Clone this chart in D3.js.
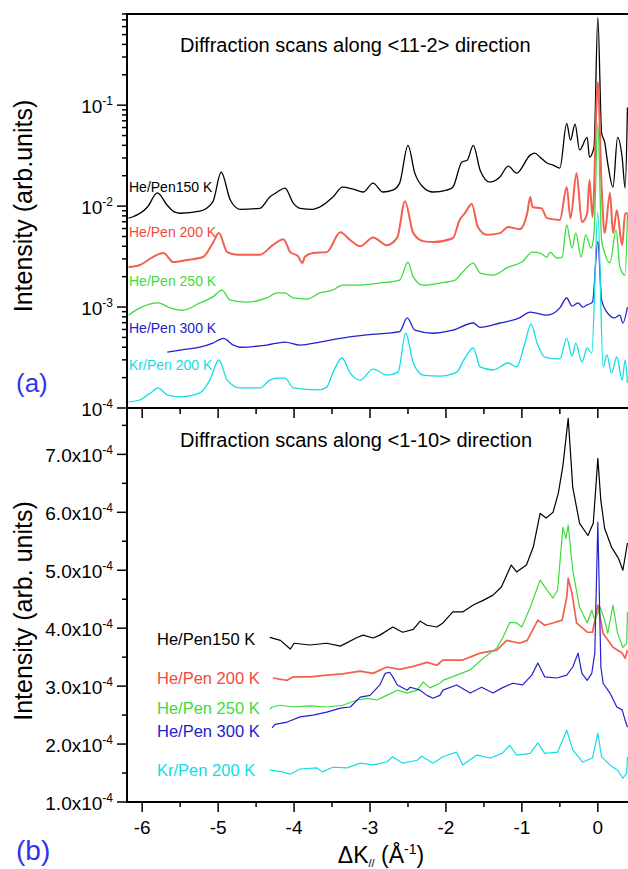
<!DOCTYPE html>
<html>
<head>
<meta charset="utf-8">
<script src="https://cdn.jsdelivr.net/npm/d3@7"></script>
<style>
body { margin: 0; background: #fff; }
svg { display: block; font-family: "Liberation Sans", Arial, sans-serif; }
</style>
</head>
<body>
<div id="chart-area"></div>
<script>
// series names and colours (same order in both panels)
const names = ["He/Pen150 K", "He/Pen 200 K", "He/Pen 250 K", "He/Pen 300 K", "Kr/Pen 200 K"];
const colors = ["#000000", "#ef4a3a", "#3cdc3c", "#2222cc", "#11dde6"];
const lineColors = ["#000000", "#f2604f", "#3cdc3c", "#2222cc", "#11dde6"];

const xTicks = [-6, -5, -4, -3, -2, -1, 0];
const topTicks = [1e-4, 1e-3, 1e-2, 1e-1];
const topTickExp = ["-4", "-3", "-2", "-1"];
const botTicks = [1e-4, 2e-4, 3e-4, 4e-4, 5e-4, 6e-4, 7e-4];
const botTickMant = ["1.0", "2.0", "3.0", "4.0", "5.0", "6.0", "7.0"];

// (a) along <11-2>, log intensity
const top150 = [[-6.18, 7.6e-3], [-6.13, 7.8e-3], [-5.93, 9.8e-3], [-5.80, 1.35e-2], [-5.67, 1.02e-2], [-5.57, 8.7e-3], [-5.50, 8.5e-3], [-5.24, 8.9e-3], [-5.07, 1.10e-2], [-4.96, 2.17e-2], [-4.84, 1.15e-2], [-4.71, 9.3e-3], [-4.45, 9.5e-3], [-4.32, 1.23e-2], [-4.22, 1.38e-2], [-4.12, 1.51e-2], [-4.01, 1.07e-2], [-3.92, 9.5e-3], [-3.75, 9.3e-3], [-3.66, 9.8e-3], [-3.49, 1.23e-2], [-3.36, 1.54e-2], [-3.22, 1.47e-2], [-3.09, 1.38e-2], [-2.96, 1.69e-2], [-2.83, 1.38e-2], [-2.70, 1.44e-2], [-2.61, 1.69e-2], [-2.50, 4.0e-2], [-2.41, 2.12e-2], [-2.30, 1.54e-2], [-2.17, 1.38e-2], [-1.99, 1.44e-2], [-1.91, 1.54e-2], [-1.79, 2.73e-2], [-1.72, 2.85e-2], [-1.64, 4.0e-2], [-1.55, 2.27e-2], [-1.42, 1.73e-2], [-1.29, 1.94e-2], [-1.18, 2.49e-2], [-1.07, 2.12e-2], [-0.89, 3.2e-2], [-0.83, 3.35e-2], [-0.76, 3.05e-2], [-0.67, 2.67e-2], [-0.59, 2.55e-2], [-0.50, 2.38e-2], [-0.41, 6.6e-2], [-0.36, 4.5e-2], [-0.30, 6.5e-2], [-0.24, 3.6e-2], [-0.14, 4.8e-2], [-0.11, 3.05e-2], [-0.05, 3.84e-2], [0, 0.74], [0.05, 5.3e-2], [0.09, 4.3e-2], [0.13, 2.67e-2], [0.20, 1.54e-2], [0.26, 4.8e-2], [0.32, 3.05e-2], [0.36, 1.51e-2], [0.39, 9.5e-2]];
const top200 = [[-6.18, 2.49e-3], [-6.03, 2.61e-3], [-5.86, 3.13e-3], [-5.72, 3.43e-3], [-5.59, 2.79e-3], [-5.41, 2.92e-3], [-5.20, 3.13e-3], [-5.07, 4.3e-3], [-4.99, 5.4e-3], [-4.88, 3.5e-3], [-4.75, 3.3e-3], [-4.45, 3.3e-3], [-4.28, 4.1e-3], [-4.14, 4.7e-3], [-4.05, 3.5e-3], [-3.95, 3.2e-3], [-3.89, 2.73e-3], [-3.86, 3.13e-3], [-3.75, 3.43e-3], [-3.57, 3.5e-3], [-3.39, 5.5e-3], [-3.26, 4.6e-3], [-3.13, 4.0e-3], [-2.96, 4.9e-3], [-2.78, 4.1e-3], [-2.64, 4.9e-3], [-2.54, 1.12e-2], [-2.43, 5.4e-3], [-2.30, 4.5e-3], [-2.17, 4.4e-3], [-1.91, 4.8e-3], [-1.82, 7.3e-3], [-1.75, 8.5e-3], [-1.66, 1.05e-2], [-1.58, 6.2e-3], [-1.46, 5.2e-3], [-1.29, 5.4e-3], [-1.18, 6.2e-3], [-1.03, 5.9e-3], [-0.93, 8.5e-3], [-0.89, 1.23e-2], [-0.86, 9.8e-3], [-0.74, 9.5e-3], [-0.67, 7.6e-3], [-0.50, 7.3e-3], [-0.41, 1.54e-2], [-0.36, 7.6e-3], [-0.28, 2.12e-2], [-0.21, 6.95e-3], [-0.14, 8.5e-3], [-0.11, 1.81e-2], [-0.07, 7.8e-3], [0, 0.169], [0.05, 1.54e-2], [0.09, 5.4e-3], [0.16, 1.35e-2], [0.20, 5.4e-3], [0.25, 9.1e-3], [0.32, 4.1e-3], [0.36, 8.5e-3], [0.39, 8.5e-3]];
const top250 = [[-6.18, 8.3e-4], [-6.03, 9.8e-4], [-5.79, 1.10e-3], [-5.63, 9.8e-4], [-5.47, 9.3e-4], [-5.24, 1.10e-3], [-5.07, 1.26e-3], [-4.95, 1.47e-3], [-4.84, 1.17e-3], [-4.62, 1.12e-3], [-4.36, 1.23e-3], [-4.22, 1.38e-3], [-4.12, 1.38e-3], [-4.01, 1.23e-3], [-3.83, 1.20e-3], [-3.66, 1.38e-3], [-3.49, 1.47e-3], [-3.36, 1.65e-3], [-3.13, 1.65e-3], [-2.87, 1.73e-3], [-2.61, 1.85e-3], [-2.50, 2.79e-3], [-2.43, 1.98e-3], [-2.30, 1.65e-3], [-2.08, 1.73e-3], [-1.88, 1.85e-3], [-1.78, 2.22e-3], [-1.64, 2.73e-3], [-1.55, 2.17e-3], [-1.38, 2.07e-3], [-1.18, 2.49e-3], [-1.00, 2.79e-3], [-0.86, 3.5e-3], [-0.76, 3.43e-3], [-0.67, 3.13e-3], [-0.63, 3.5e-3], [-0.54, 3.06e-3], [-0.47, 3.13e-3], [-0.41, 6.5e-3], [-0.34, 3.84e-3], [-0.29, 5.4e-3], [-0.22, 3.13e-3], [-0.16, 5.2e-3], [-0.09, 3.84e-3], [-0.05, 5.4e-3], [0, 6.6e-2], [0.05, 4.6e-3], [0.09, 3.43e-3], [0.16, 2.73e-3], [0.24, 5.8e-3], [0.29, 2.49e-3], [0.36, 2.07e-3], [0.39, 8.5e-3]];
const top300 = [[-5.67, 3.58e-4], [-5.50, 3.75e-4], [-5.24, 4.0e-4], [-5.07, 4.4e-4], [-4.93, 4.9e-4], [-4.80, 4.2e-4], [-4.71, 4.0e-4], [-4.36, 4.2e-4], [-4.12, 4.5e-4], [-3.92, 4.2e-4], [-3.66, 4.5e-4], [-3.39, 4.9e-4], [-3.04, 5.3e-4], [-2.61, 5.7e-4], [-2.51, 7.8e-4], [-2.41, 5.9e-4], [-2.17, 5.5e-4], [-1.91, 5.9e-4], [-1.64, 6.95e-4], [-1.55, 6.3e-4], [-1.29, 6.95e-4], [-1.03, 7.8e-4], [-0.89, 8.9e-4], [-0.67, 8.3e-4], [-0.50, 9.8e-4], [-0.41, 1.23e-3], [-0.34, 1.02e-3], [-0.26, 1.10e-3], [-0.20, 1.0e-3], [-0.14, 1.05e-3], [-0.07, 1.12e-3], [0, 4.5e-3], [0.05, 1.17e-3], [0.12, 8.9e-4], [0.22, 7.8e-4], [0.29, 8.3e-4], [0.33, 6.95e-4], [0.39, 1.0e-3]];
const topKr = [[-6.18, 1.15e-4], [-6.03, 1.2e-4], [-5.89, 1.41e-4], [-5.79, 1.58e-4], [-5.67, 1.35e-4], [-5.50, 1.29e-4], [-5.24, 1.41e-4], [-5.11, 1.89e-4], [-4.99, 2.99e-4], [-4.88, 1.89e-4], [-4.71, 1.58e-4], [-4.45, 1.58e-4], [-4.32, 1.89e-4], [-4.22, 1.98e-4], [-4.12, 1.98e-4], [-4.01, 1.58e-4], [-3.68, 1.51e-4], [-3.57, 1.61e-4], [-3.49, 2.22e-4], [-3.37, 3.13e-4], [-3.26, 2.22e-4], [-3.13, 1.89e-4], [-2.96, 2.43e-4], [-2.78, 2.12e-4], [-2.63, 2.27e-4], [-2.53, 5.5e-4], [-2.43, 2.79e-4], [-2.30, 2.12e-4], [-2.08, 2.07e-4], [-1.86, 2.27e-4], [-1.75, 3.13e-4], [-1.64, 3.93e-4], [-1.55, 2.55e-4], [-1.38, 2.38e-4], [-1.18, 2.79e-4], [-1.07, 2.55e-4], [-0.96, 4.4e-4], [-0.88, 6.8e-4], [-0.80, 4.4e-4], [-0.70, 3.2e-4], [-0.50, 3.06e-4], [-0.41, 4.9e-4], [-0.34, 3.27e-4], [-0.29, 4.4e-4], [-0.21, 2.85e-4], [-0.14, 3.93e-4], [-0.08, 3.5e-4], [0, 8.7e-3], [0.07, 2.55e-4], [0.12, 3.35e-4], [0.18, 2.22e-4], [0.25, 3.2e-4], [0.32, 1.89e-4], [0.36, 2.99e-4], [0.39, 1.77e-4]];

// (b) along <1-10>, linear intensity
const bot150 = [[-4.32, 3.84e-4], [-4.18, 3.79e-4], [-4.05, 3.64e-4], [-4.00, 3.74e-4], [-3.79, 3.71e-4], [-3.57, 3.74e-4], [-3.39, 3.69e-4], [-3.17, 3.84e-4], [-3.09, 3.88e-4], [-2.96, 3.83e-4], [-2.87, 3.88e-4], [-2.70, 4.02e-4], [-2.57, 3.93e-4], [-2.43, 3.98e-4], [-2.34, 4.12e-4], [-2.25, 4.05e-4], [-2.12, 4.02e-4], [-2.04, 4.09e-4], [-1.91, 4.28e-4], [-1.78, 4.28e-4], [-1.64, 4.40e-4], [-1.51, 4.48e-4], [-1.38, 4.57e-4], [-1.27, 4.71e-4], [-1.14, 5.09e-4], [-1.07, 4.97e-4], [-0.94, 5.09e-4], [-0.85, 5.40e-4], [-0.76, 5.98e-4], [-0.68, 5.90e-4], [-0.59, 6.0e-4], [-0.52, 6.33e-4], [-0.46, 6.8e-4], [-0.39, 7.62e-4], [-0.33, 6.43e-4], [-0.24, 5.81e-4], [-0.13, 5.60e-4], [-0.06, 5.81e-4], [-0.02, 6.55e-4], [0, 6.93e-4], [0.04, 6.2e-4], [0.09, 5.72e-4], [0.18, 5.40e-4], [0.27, 5.21e-4], [0.33, 5.0e-4], [0.39, 5.47e-4]];
const bot200 = [[-4.28, 3.14e-4], [-4.09, 3.10e-4], [-4.01, 3.16e-4], [-3.79, 3.16e-4], [-3.57, 3.19e-4], [-3.36, 3.21e-4], [-3.13, 3.26e-4], [-2.96, 3.22e-4], [-2.78, 3.33e-4], [-2.61, 3.29e-4], [-2.43, 3.34e-4], [-2.25, 3.41e-4], [-2.12, 3.36e-4], [-2.04, 3.45e-4], [-1.78, 3.45e-4], [-1.55, 3.57e-4], [-1.33, 3.62e-4], [-1.20, 3.79e-4], [-1.03, 3.74e-4], [-0.93, 3.79e-4], [-0.79, 4.14e-4], [-0.70, 4.05e-4], [-0.59, 4.09e-4], [-0.47, 4.14e-4], [-0.41, 4.53e-4], [-0.39, 4.86e-4], [-0.34, 4.60e-4], [-0.28, 4.09e-4], [-0.14, 3.93e-4], [-0.07, 3.93e-4], [0, 4.40e-4], [0.07, 3.91e-4], [0.20, 3.67e-4], [0.32, 3.57e-4], [0.36, 3.48e-4], [0.39, 3.62e-4]];
const bot250 = [[-4.32, 2.60e-4], [-4.29, 2.64e-4], [-4.18, 2.67e-4], [-4.01, 2.64e-4], [-3.79, 2.66e-4], [-3.57, 2.64e-4], [-3.36, 2.67e-4], [-3.17, 2.76e-4], [-3.04, 2.79e-4], [-2.91, 2.76e-4], [-2.78, 2.84e-4], [-2.64, 2.93e-4], [-2.51, 2.88e-4], [-2.38, 2.93e-4], [-2.30, 3.07e-4], [-2.21, 2.97e-4], [-2.08, 3.05e-4], [-2.04, 3.10e-4], [-1.86, 3.19e-4], [-1.68, 3.28e-4], [-1.51, 3.48e-4], [-1.33, 3.66e-4], [-1.25, 3.84e-4], [-1.16, 4.10e-4], [-1.07, 4.09e-4], [-1.00, 4.02e-4], [-0.89, 4.36e-4], [-0.76, 4.83e-4], [-0.67, 4.66e-4], [-0.59, 4.52e-4], [-0.53, 4.66e-4], [-0.46, 5.74e-4], [-0.42, 5.55e-4], [-0.39, 5.78e-4], [-0.33, 5.0e-4], [-0.24, 4.36e-4], [-0.14, 4.09e-4], [-0.08, 4.31e-4], [-0.04, 4.14e-4], [0.03, 4.36e-4], [0.09, 4.14e-4], [0.13, 3.91e-4], [0.20, 4.40e-4], [0.26, 3.91e-4], [0.33, 3.67e-4], [0.38, 3.74e-4], [0.39, 4.28e-4]];
const bot300 = [[-4.29, 2.28e-4], [-4.25, 2.34e-4], [-4.09, 2.38e-4], [-3.92, 2.47e-4], [-3.75, 2.50e-4], [-3.57, 2.55e-4], [-3.39, 2.62e-4], [-3.26, 2.64e-4], [-3.13, 2.81e-4], [-3.00, 2.84e-4], [-2.87, 3.02e-4], [-2.80, 3.22e-4], [-2.74, 3.24e-4], [-2.70, 3.16e-4], [-2.64, 3.02e-4], [-2.51, 2.93e-4], [-2.47, 2.98e-4], [-2.34, 2.93e-4], [-2.25, 2.84e-4], [-2.17, 2.79e-4], [-2.08, 2.84e-4], [-2.04, 2.93e-4], [-1.86, 3.02e-4], [-1.68, 2.88e-4], [-1.53, 2.98e-4], [-1.38, 2.88e-4], [-1.26, 2.97e-4], [-1.12, 3.05e-4], [-0.99, 3.02e-4], [-0.87, 3.19e-4], [-0.79, 3.40e-4], [-0.70, 3.16e-4], [-0.54, 3.14e-4], [-0.41, 3.19e-4], [-0.33, 3.33e-4], [-0.26, 3.57e-4], [-0.21, 3.22e-4], [-0.14, 3.10e-4], [-0.08, 3.22e-4], [-0.04, 3.57e-4], [0, 5.83e-4], [0.04, 3.33e-4], [0.07, 3.05e-4], [0.16, 2.88e-4], [0.25, 2.64e-4], [0.32, 2.59e-4], [0.36, 2.41e-4], [0.39, 2.29e-4]];
const botKr = [[-4.32, 1.55e-4], [-4.18, 1.53e-4], [-4.05, 1.48e-4], [-3.92, 1.57e-4], [-3.70, 1.59e-4], [-3.63, 1.52e-4], [-3.49, 1.60e-4], [-3.30, 1.59e-4], [-3.13, 1.67e-4], [-2.96, 1.64e-4], [-2.78, 1.69e-4], [-2.70, 1.78e-4], [-2.57, 1.67e-4], [-2.38, 1.72e-4], [-2.32, 1.79e-4], [-2.17, 1.67e-4], [-2.04, 1.78e-4], [-1.86, 1.86e-4], [-1.78, 1.64e-4], [-1.59, 1.81e-4], [-1.42, 1.76e-4], [-1.26, 1.84e-4], [-1.16, 1.98e-4], [-1.07, 1.81e-4], [-0.89, 1.84e-4], [-0.79, 2.02e-4], [-0.70, 1.84e-4], [-0.53, 1.86e-4], [-0.41, 2.24e-4], [-0.33, 1.90e-4], [-0.20, 1.69e-4], [-0.07, 1.76e-4], [0, 2.19e-4], [0.05, 1.78e-4], [0.16, 1.64e-4], [0.26, 1.55e-4], [0.33, 1.41e-4], [0.38, 1.50e-4], [0.39, 1.78e-4]];

const topSeries = [top150, top200, top250, top300, topKr];
const botSeries = [bot150, bot200, bot250, bot300, botKr];

// label positions (baseline y) for each panel
const topLabelY = [192, 237, 286, 333, 370];
const botLabelY = [645, 684, 714, 737, 776];

const W = 628, H = 869;
const left = 127, right = 632;
const topY0 = 14, midY = 408, botY1 = 802;

const svg = d3.select("#chart-area").append("svg")
	.attr("width", W)
	.attr("height", H);

const x = d3.scaleLinear().domain([-6.2, 0.45]).range([left, right]);
const yTop = d3.scaleLog().domain([1e-4, 0.8]).range([midY, topY0]);
const yBot = d3.scaleLinear().domain([1e-4, 7.8e-4]).range([botY1, midY]);

const defs = svg.append("defs");
defs.append("clipPath").attr("id", "clipTop").append("rect")
	.attr("x", left).attr("y", topY0).attr("width", right - left).attr("height", midY - topY0);
defs.append("clipPath").attr("id", "clipBot").append("rect")
	.attr("x", left).attr("y", midY).attr("width", right - left).attr("height", botY1 - midY);

// curves: smooth peaks on top, raw-looking scans below
const lineTop = d3.line().curve(d3.curveMonotoneX).x(d => x(d[0])).y(d => yTop(d[1]));
const lineBot = d3.line().x(d => x(d[0])).y(d => yBot(d[1]));

svg.append("g").attr("clip-path", "url(#clipTop)")
	.selectAll("path")
	.data(topSeries)
	.enter()
	.append("path")
	.attr("d", lineTop)
	.attr("fill", "none")
	.attr("stroke", (d, i) => lineColors[i])
	.attr("stroke-width", (d, i) => i === 1 ? 2 : 1.3)
	.attr("stroke-linejoin", "round");

svg.append("g").attr("clip-path", "url(#clipBot)")
	.selectAll("path")
	.data(botSeries)
	.enter()
	.append("path")
	.attr("d", lineBot)
	.attr("fill", "none")
	.attr("stroke", (d, i) => lineColors[i])
	.attr("stroke-width", (d, i) => i === 1 ? 1.7 : 1.2)
	.attr("stroke-linejoin", "round");

// frames
[[topY0, midY], [midY, botY1]].forEach(([a, b]) => {
	svg.append("rect")
		.attr("x", left).attr("y", a)
		.attr("width", right - left).attr("height", b - a)
		.attr("fill", "none").attr("stroke", "#000").attr("stroke-width", 2);
});

// ticks
const tickG = svg.append("g").attr("stroke", "#000").attr("stroke-width", 1.5);
const logMinor = yTop.ticks().filter(v => !topTicks.some(t => Math.abs(t - v) / t < 1e-6));
tickG.selectAll(".ty").data(topTicks).enter().append("line")
	.attr("x1", left - 10).attr("x2", left).attr("y1", d => yTop(d)).attr("y2", d => yTop(d));
tickG.selectAll(".tym").data(logMinor).enter().append("line")
	.attr("x1", left - 5).attr("x2", left).attr("y1", d => yTop(d)).attr("y2", d => yTop(d));

const botMinor = yBot.ticks(14).filter(v => !botTicks.some(t => Math.abs(t - v) < 1e-9));
tickG.selectAll(".by").data(botTicks).enter().append("line")
	.attr("x1", left - 10).attr("x2", left).attr("y1", d => yBot(d)).attr("y2", d => yBot(d));
tickG.selectAll(".bym").data(botMinor).enter().append("line")
	.attr("x1", left - 5).attr("x2", left).attr("y1", d => yBot(d)).attr("y2", d => yBot(d));

const xMinor = x.ticks(13).filter(v => !xTicks.includes(v));
// inward ticks on the shared boundary
tickG.selectAll(".mx").data(xTicks).enter().append("line")
	.attr("x1", d => x(d)).attr("x2", d => x(d)).attr("y1", midY).attr("y2", midY + 10);
tickG.selectAll(".mxm").data(xMinor).enter().append("line")
	.attr("x1", d => x(d)).attr("x2", d => x(d)).attr("y1", midY).attr("y2", midY + 6);
// outward ticks at the bottom
tickG.selectAll(".bx").data(xTicks).enter().append("line")
	.attr("x1", d => x(d)).attr("x2", d => x(d)).attr("y1", botY1).attr("y2", botY1 + 10);
tickG.selectAll(".bxm").data(xMinor).enter().append("line")
	.attr("x1", d => x(d)).attr("x2", d => x(d)).attr("y1", botY1).attr("y2", botY1 + 5);

// tick labels
const topLab = svg.selectAll(".tlab").data(topTicks).enter().append("text")
	.attr("x", 113).attr("y", d => yTop(d) + 8)
	.attr("text-anchor", "end").attr("font-size", 19);
topLab.append("tspan").text("10");
topLab.append("tspan").attr("dy", -8).attr("font-size", 12).text((d, i) => topTickExp[i]);

const botLab = svg.selectAll(".blab").data(botTicks).enter().append("text")
	.attr("x", 113).attr("y", d => yBot(d) + 8)
	.attr("text-anchor", "end").attr("font-size", 19);
botLab.append("tspan").text((d, i) => botTickMant[i] + "x10");
botLab.append("tspan").attr("dy", -8).attr("font-size", 12).text("-4");

svg.selectAll(".xlab").data(xTicks).enter().append("text")
	.attr("x", d => x(d)).attr("y", 834)
	.attr("text-anchor", "middle").attr("font-size", 19)
	.text(d => d === 0 ? "0" : "-" + Math.abs(d));

// series labels
svg.selectAll(".tname").data(names).enter().append("text")
	.attr("x", 129).attr("y", (d, i) => topLabelY[i])
	.attr("font-size", 14).attr("fill", (d, i) => colors[i])
	.text(d => d);
svg.selectAll(".bname").data(names).enter().append("text")
	.attr("x", 157).attr("y", (d, i) => botLabelY[i])
	.attr("font-size", 16.5).attr("fill", (d, i) => colors[i])
	.text(d => d);

// panel titles
svg.append("text").attr("x", 180).attr("y", 52).attr("font-size", 20)
	.text("Diffraction scans along <11-2> direction");
svg.append("text").attr("x", 180).attr("y", 447).attr("font-size", 20)
	.text("Diffraction scans along <1-10> direction");

// axis titles
svg.append("text").attr("transform", "translate(32,206) rotate(-90)")
	.attr("text-anchor", "middle").attr("font-size", 25)
	.text("Intensity (arb.units)");
svg.append("text").attr("transform", "translate(32,611) rotate(-90)")
	.attr("text-anchor", "middle").attr("font-size", 25)
	.text("Intensity (arb. units)");

const xt = svg.append("text").attr("x", 381).attr("y", 863)
	.attr("text-anchor", "middle").attr("font-size", 23);
xt.append("tspan").text("\u0394K");
xt.append("tspan").attr("dy", 4).attr("font-size", 11).text("//");
xt.append("tspan").attr("dy", -4).text(" (\u00C5");
xt.append("tspan").attr("dy", -9).attr("font-size", 14).text("-1");
xt.append("tspan").attr("dy", 9).text(")");

// panel letters
svg.append("text").attr("x", 16).attr("y", 392).attr("font-size", 26)
	.attr("fill", "#3333ee").text("(a)");
svg.append("text").attr("x", 16).attr("y", 860).attr("font-size", 28)
	.attr("fill", "#3333ee").text("(b)");
</script>
</body>
</html>
